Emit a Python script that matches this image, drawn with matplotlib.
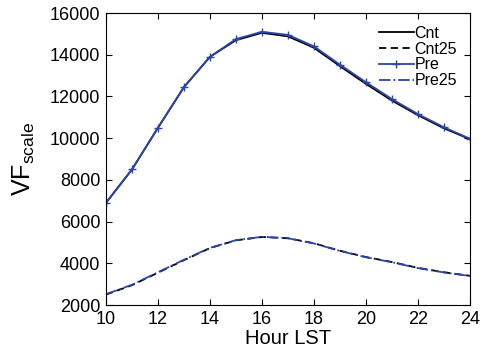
import matplotlib
matplotlib.use("Agg")
import matplotlib.pyplot as plt

plt.rcParams['font.family'] = ['Liberation Sans', 'DejaVu Sans']

hours = [10, 11, 12, 13, 14, 15, 16, 17, 18, 19, 20, 21, 22, 23, 24]
cnt = [6900, 8500, 10500, 12450, 13900, 14700, 15050, 14880, 14330, 13450, 12600, 11800, 11100, 10470, 9950]
pre = [6900, 8500, 10500, 12450, 13900, 14750, 15100, 14950, 14400, 13520, 12680, 11870, 11150, 10520, 9970]
cnt25 = [2500, 2950, 3550, 4150, 4730, 5100, 5260, 5200, 4960, 4600, 4300, 4060, 3780, 3570, 3400]
pre25 = [2520, 2970, 3570, 4170, 4740, 5110, 5270, 5200, 4950, 4590, 4290, 4050, 3770, 3560, 3390]

fig = plt.figure(figsize=(4.86, 3.57), dpi=100)
ax = fig.add_axes([106/486, 1-305/357, (470-106)/486, (305-13)/357])

ax.plot(hours, cnt, color='black', lw=1.3, label='Cnt')
ax.plot(hours, cnt25, color='black', lw=1.3, ls=(0, (4, 2.5)), label='Cnt25')
ax.plot(hours, pre, color='#2b45a8', lw=1.3, marker='+', ms=6, mew=1.0, label='Pre')
ax.plot(hours, pre25, color='#2b45a8', lw=1.3, ls='-.', label='Pre25')

ax.set_xlim(10, 24)
ax.set_ylim(2000, 16000)
ax.set_xticks(range(10, 25, 2))
ax.set_yticks(range(2000, 16001, 2000))
ax.tick_params(direction='in', labelsize=13, length=4, top=True, right=True, pad=4)
ax.set_xlabel('Hour LST', fontsize=14.5, labelpad=1)
ax.set_ylabel(r'VF$_{\mathregular{scale}}$', fontsize=18, labelpad=9)
leg = ax.legend(loc='upper right', frameon=False, fontsize=11.5, handlelength=2.2,
                handletextpad=0.05, labelspacing=0.05, borderaxespad=0.4)

fig.savefig('out.png', dpi=100)
